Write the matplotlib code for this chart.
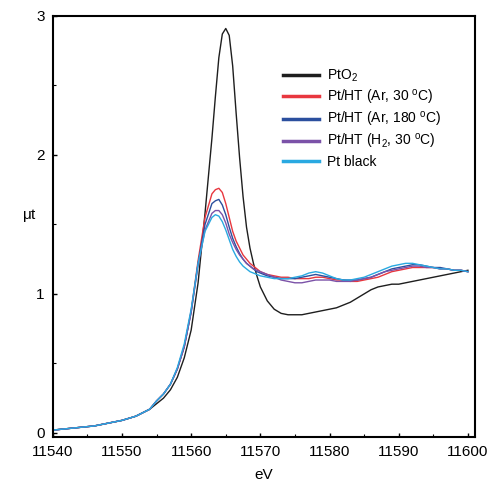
import numpy as np
import matplotlib.pyplot as plt

plt.rcParams['font.family'] = ['Liberation Sans', 'DejaVu Sans']
plt.rcParams['mathtext.default'] = 'regular'

energy = [11540, 11542, 11544, 11546, 11548, 11550, 11552, 11554,
          11555, 11556, 11557, 11558, 11559, 11560, 11561, 11562, 11563,
          11563.5, 11564, 11564.5, 11565, 11565.5, 11566, 11566.5, 11567,
          11567.5, 11568, 11568.5, 11569, 11569.5,
          11570, 11571, 11572, 11573, 11574, 11575, 11576, 11577, 11578, 11579,
          11580, 11581, 11582, 11583, 11584, 11585, 11586, 11587, 11588, 11589,
          11590, 11591, 11592, 11593, 11594, 11595, 11596, 11597, 11598, 11599,
          11600]

pre_edge = [0.02, 0.03, 0.04, 0.05, 0.07, 0.09, 0.12, 0.17]

pto2 = pre_edge + [
    0.21, 0.25, 0.31, 0.40, 0.54, 0.74, 1.08, 1.58, 2.12,
    2.42, 2.70, 2.87, 2.91, 2.86, 2.64, 2.30, 1.98, 1.70, 1.48, 1.33, 1.22, 1.13,
    1.05, 0.95, 0.89, 0.86, 0.85, 0.85, 0.85, 0.86, 0.87, 0.88,
    0.89, 0.90, 0.92, 0.94, 0.97, 1.00, 1.03, 1.05, 1.06, 1.07,
    1.07, 1.08, 1.09, 1.10, 1.11, 1.12, 1.13, 1.14, 1.15, 1.16, 1.17]

ar30 = pre_edge + [
    0.23, 0.28, 0.35, 0.46, 0.62, 0.88, 1.24, 1.55, 1.72,
    1.75, 1.76, 1.73, 1.65, 1.55, 1.45, 1.38, 1.33, 1.28, 1.25, 1.22, 1.20, 1.18,
    1.16, 1.14, 1.13, 1.12, 1.12, 1.11, 1.11, 1.11, 1.12, 1.12,
    1.11, 1.10, 1.10, 1.09, 1.09, 1.10, 1.11, 1.12, 1.14, 1.16,
    1.17, 1.18, 1.19, 1.19, 1.19, 1.19, 1.18, 1.18, 1.17, 1.17, 1.16]

ar180 = pre_edge + [
    0.23, 0.28, 0.35, 0.46, 0.62, 0.87, 1.22, 1.50, 1.65,
    1.67, 1.68, 1.64, 1.57, 1.48, 1.40, 1.34, 1.29, 1.25, 1.22, 1.20, 1.18, 1.16,
    1.15, 1.13, 1.12, 1.11, 1.11, 1.11, 1.12, 1.13, 1.14, 1.13,
    1.12, 1.11, 1.10, 1.10, 1.10, 1.11, 1.12, 1.14, 1.16, 1.18,
    1.19, 1.20, 1.21, 1.21, 1.20, 1.19, 1.19, 1.18, 1.17, 1.17, 1.16]

h2_30 = pre_edge + [
    0.23, 0.28, 0.35, 0.46, 0.62, 0.87, 1.21, 1.46, 1.58,
    1.60, 1.60, 1.57, 1.51, 1.43, 1.37, 1.32, 1.28, 1.25, 1.22, 1.20, 1.18, 1.17,
    1.16, 1.14, 1.12, 1.10, 1.09, 1.08, 1.08, 1.09, 1.10, 1.10,
    1.10, 1.09, 1.09, 1.09, 1.10, 1.11, 1.12, 1.14, 1.16, 1.17,
    1.18, 1.19, 1.20, 1.20, 1.19, 1.19, 1.18, 1.18, 1.17, 1.17, 1.16]

pt_black = pre_edge + [
    0.23, 0.28, 0.35, 0.47, 0.64, 0.89, 1.22, 1.45, 1.55,
    1.57, 1.56, 1.52, 1.46, 1.39, 1.32, 1.27, 1.23, 1.20, 1.18, 1.16, 1.15, 1.14,
    1.13, 1.12, 1.11, 1.11, 1.11, 1.12, 1.13, 1.15, 1.16, 1.15,
    1.13, 1.11, 1.10, 1.10, 1.11, 1.12, 1.14, 1.16, 1.18, 1.20,
    1.21, 1.22, 1.22, 1.21, 1.20, 1.19, 1.18, 1.18, 1.17, 1.17, 1.16]

series = [
    ("PtO$_2$", pto2, "#1e1e1e"),
    ("Pt/HT (Ar, 30 $^{o}$C)", ar30, "#e8373f"),
    ("Pt/HT (Ar, 180 $^{o}$C)", ar180, "#2b4f9e"),
    ("Pt/HT (H$_2$, 30 $^{o}$C)", h2_30, "#7b52a8"),
    ("Pt black", pt_black, "#29a9e1"),
]

fig = plt.figure(figsize=(4.89, 4.84), dpi=100)
ax = fig.add_axes([0.108, 0.097, 0.863, 0.870])

for label, vals, col in series:
    ax.plot(energy, vals, color=col, lw=1.0, label=label)

ax.set_xlim(11540, 11601)
ax.set_ylim(-0.03, 3.0)
ax.set_xticks(np.arange(11540, 11601, 10))
ax.set_xticks(np.arange(11545, 11600, 10), minor=True)
ax.set_yticks([0, 1, 2, 3])
ax.set_yticks([0.5, 1.5, 2.5], minor=True)
ax.tick_params(direction='in', length=3, width=1, labelsize=11, pad=6)
ax.tick_params(which='minor', direction='in', length=2, width=0.8)
for s in ax.spines.values():
    s.set_linewidth(1.5)

ax.set_xlabel('eV', fontsize=11, labelpad=6)
ax.set_ylabel(r'$\mu$t', fontsize=11, rotation=0)
ax.yaxis.set_label_coords(-0.055, 0.505)

leg = ax.legend(loc='upper left', bbox_to_anchor=(0.515, 0.907), frameon=False,
                fontsize=10, handlelength=2.6, handletextpad=0.6,
                labelspacing=0.25)
for line in leg.get_lines():
    line.set_linewidth(2.5)

fig.savefig('out.png', dpi=100)
